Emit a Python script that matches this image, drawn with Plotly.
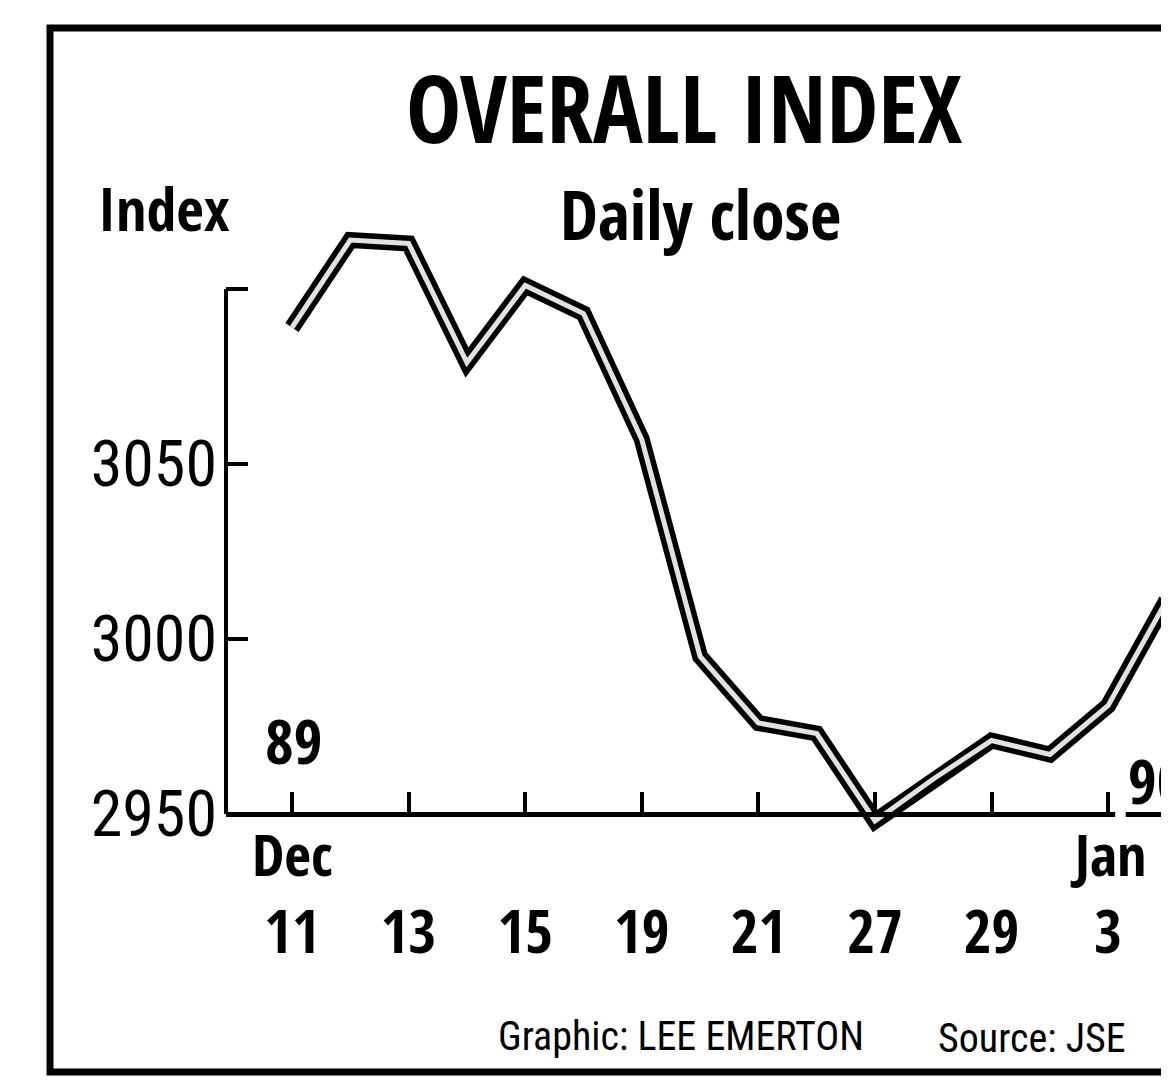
import plotly.graph_objects as go

# ---------------- data ----------------
dates = ["Dec 11", "Dec 12", "Dec 13", "Dec 14", "Dec 15", "Dec 18", "Dec 19", "Dec 20",
         "Dec 21", "Dec 22", "Dec 27", "Dec 28", "Dec 29", "Jan 2", "Jan 3", "Jan 4"]
close = [3089, 3114, 3113, 3079, 3101, 3093, 3057, 2995,
         2976, 2973, 2948, 2960, 2971, 2967, 2981, 3011]
tick_dates = ["Dec 11", "Dec 13", "Dec 15", "Dec 19", "Dec 21", "Dec 27", "Dec 29", "Jan 3"]
tick_text = ["11", "13", "15", "19", "21", "27", "29", "3"]
y_tickvals = [2950, 3000, 3050, 3100]
y_ticktext = ["2950", "3000", "3050", ""]
y_axis_span = [2950, 3100]

# ---------------- layout geometry (screen pixels; page has 8px body margin) ----------------
OFF = 8
W, H = 1169 - OFF, 1085 - OFF
L, R, T, B = 226 - OFF, 0, 200 - OFF, 1085 - 850
PX_PER_UNIT = 3.5
BASE_PX = 814          # screen row of 2950
X0_PX, STEP_PX = 292, 58.3

plot_w = W - L - R
plot_h = H - T - B
ymax = 2950 + (BASE_PX - 200) / PX_PER_UNIT
ymin = 2950 - (850 - BASE_PX) / PX_PER_UNIT
xr = [(226 - X0_PX) / STEP_PX, (1169 - X0_PX) / STEP_PX]


def px(x):  # screen x -> paper
    return (x - 226) / plot_w


def py(y):  # screen y -> paper
    return (850 - y) / plot_h


COND = "Open Sans Condensed, Roboto Condensed, DejaVu Sans Condensed, sans-serif"
COND_REG = "Roboto Condensed, DejaVu Sans Condensed, sans-serif"

fig = go.Figure()
fig.add_trace(go.Scatter(x=dates, y=close, mode="lines",
                         line=dict(color="black", width=16), hoverinfo="skip"))
fig.add_trace(go.Scatter(x=dates, y=close, mode="lines",
                         line=dict(color="#e2e2e2", width=5), hoverinfo="skip"))

fig.update_layout(
    width=W, height=H,
    template="none",
    showlegend=False,
    paper_bgcolor="white", plot_bgcolor="white",
    margin=dict(l=L, r=R, t=T, b=B, pad=0, autoexpand=False),
    xaxis=dict(
        type="category", categoryarray=dates, categoryorder="array",
        range=xr, anchor="free", position=(2950 - ymin) / (ymax - ymin),
        showline=True, linecolor="black", linewidth=5,
        showgrid=False, zeroline=False,
        tickmode="array", tickvals=tick_dates, ticktext=tick_text,
        ticks="inside", ticklen=20, tickwidth=4, tickcolor="black",
        ticklabelstandoff=64,
        tickfont=dict(family=COND, size=60, color="black", weight="bold"),
        automargin=False, fixedrange=True,
    ),
    yaxis=dict(
        range=[ymin, ymax], showline=False, showgrid=False, zeroline=False,
        tickmode="array", tickvals=y_tickvals, ticktext=y_ticktext,
        ticks="inside", ticklen=22, tickwidth=4, tickcolor="black",
        ticklabelstandoff=8,
        tickfont=dict(family=COND_REG, size=64, color="black", weight="normal"),
        automargin=False, fixedrange=True,
    ),
)

# y axis line (only between 2950 and 3100)
fig.add_shape(type="line", xref="paper", yref="y", x0=0, x1=0,
              y0=y_axis_span[0], y1=y_axis_span[1],
              line=dict(color="black", width=4))

# small break in the x axis before the new year
fig.add_shape(type="line", xref="x", yref="y", x0=14.12, x1=14.3, y0=2950, y1=2950,
              line=dict(color="white", width=9), layer="above")

# outer frame (right side runs off the page)
fig.add_shape(type="rect", xref="paper", yref="paper",
              x0=px(50), x1=px(1200), y0=py(1072), y1=py(28),
              line=dict(color="black", width=7), fillcolor="rgba(0,0,0,0)")


def txt(text, x, y, size, bold=True, xanchor="center", xref="paper"):
    return dict(text=text, x=x, y=y, xref=xref, yref="paper", showarrow=False,
                xanchor=xanchor, yanchor="middle",
                font=dict(family=COND if bold else COND_REG, size=size, color="black",
                          weight="bold" if bold else "normal"))


ann = [
    txt("OVERALL INDEX", px(684), py(107), 93),
    txt("Index", px(96), py(208), 60, xanchor="left"),
    txt("Daily close", px(700), py(214), 68),
    txt("89", px(293), py(740), 62),
    txt("90", px(1126), py(780), 62, xanchor="left"),
    txt("Dec", dates[0], py(853), 58, xref="x"),
    txt("Jan", tick_dates[-1], py(853), 58, xref="x"),
    txt("Graphic: LEE EMERTON", px(681), py(1036), 40, bold=False),
    txt("Source: JSE", px(1032), py(1038), 40, bold=False),
]
fig.update_layout(annotations=ann)

fig.write_html("out.html")
